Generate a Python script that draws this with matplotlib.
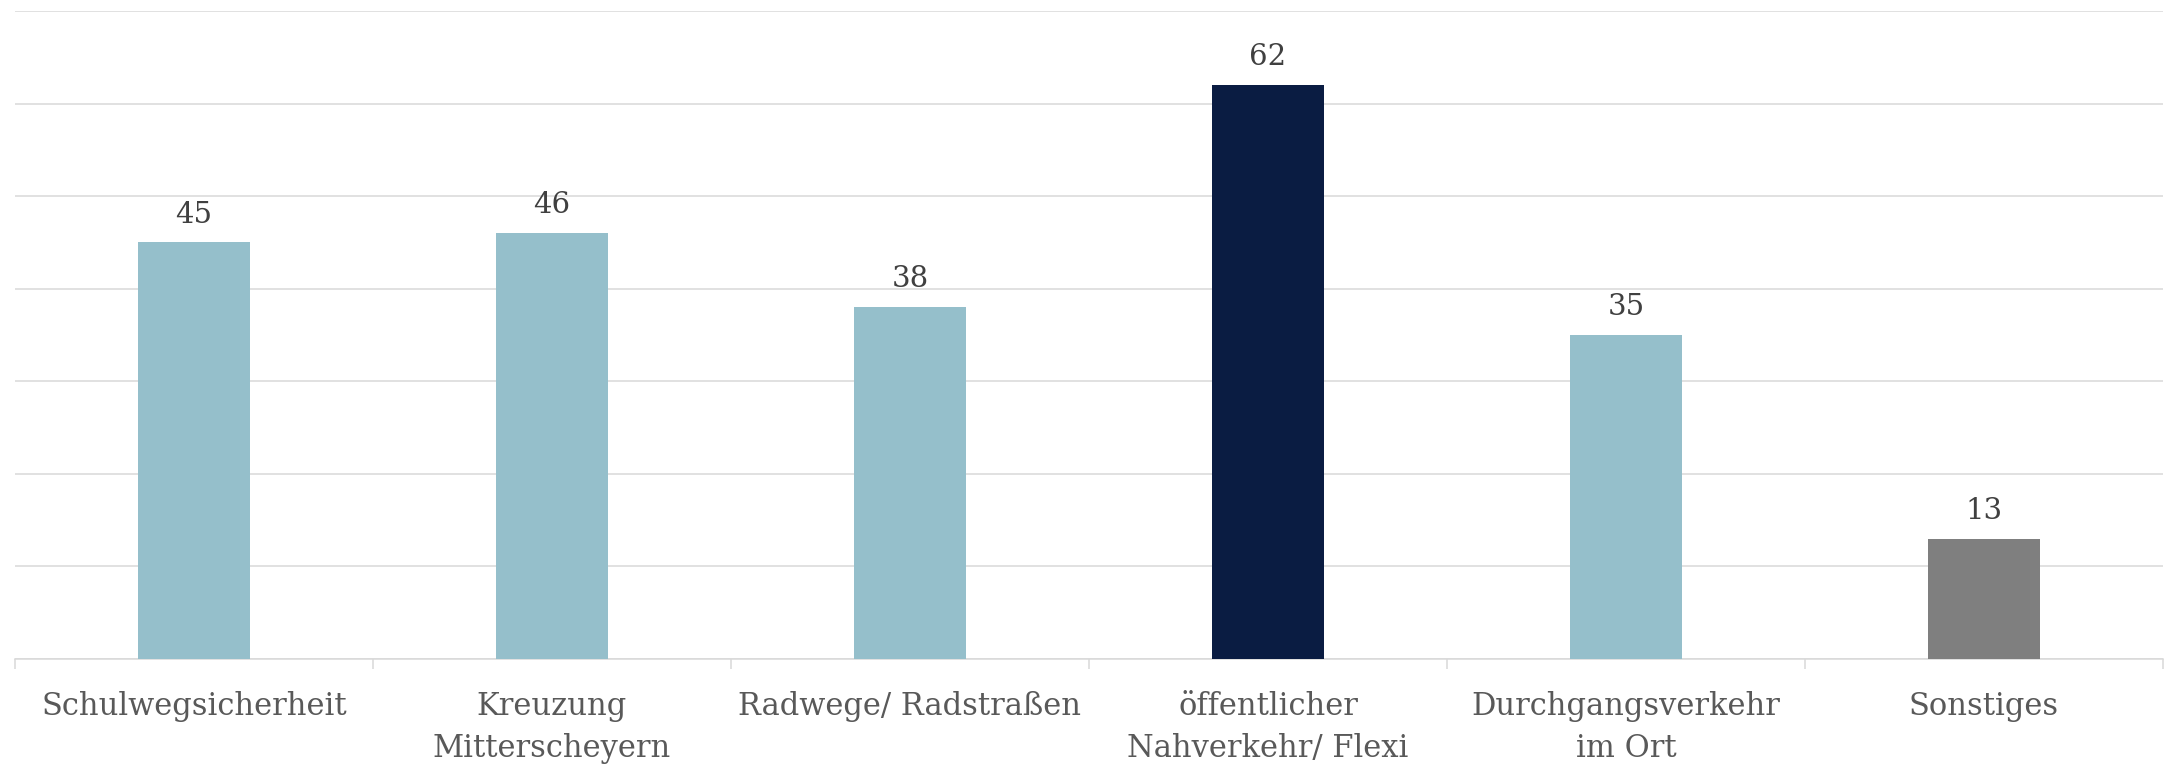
import matplotlib
matplotlib.use('Agg')
import matplotlib.pyplot as plt
import numpy as np

categories = ['Schulwegsicherheit', 'Kreuzung\nMitterscheyern', 'Radwege/ Radstraßen',
              'öffentlicher\nNahverkehr/ Flexi', 'Durchgangsverkehr\nim Ort', 'Sonstiges']
values = [45, 46, 38, 62, 35, 13]
colors = ['#95BFCB', '#95BFCB', '#95BFCB', '#0A1C42', '#95BFCB', '#7F7F7F']

plt.rcParams['font.family'] = ['DejaVu Serif']

fig = plt.figure(figsize=(21.68, 7.67), dpi=100)
ax = fig.add_axes([15 / 2168, 1 - 659 / 767, 2148 / 2168, 648 / 767])

x = np.arange(len(categories))
ax.bar(x, values, width=0.315, color=colors, linewidth=0, zorder=3)
for xi, v in zip(x, values):
    ax.annotate(str(v), (xi, v), xytext=(0, 10), textcoords='offset points',
                ha='center', va='bottom', fontsize=21, color='#404040')

ax.set_xlim(-0.5, len(categories) - 0.5)
ax.set_ylim(0, 70)
ax.set_yticks(np.arange(0, 71, 10))
ax.yaxis.grid(True, color='#D9D9D9', linewidth=1.1, zorder=0)
ax.tick_params(axis='y', left=False, labelleft=False)

ax.set_xticks(x)
ax.set_xticklabels(categories, fontsize=22, color='#595959', linespacing=1.45)
ax.tick_params(axis='x', which='major', length=0, pad=23)
ax.set_xticks(np.arange(-0.5, len(categories)), minor=True)
ax.tick_params(axis='x', which='minor', length=7, color='#D9D9D9', width=1.1)

for s in ['top', 'left', 'right']:
    ax.spines[s].set_visible(False)
ax.spines['bottom'].set_color('#D9D9D9')
ax.spines['bottom'].set_linewidth(1.1)

fig.savefig('out.png', dpi=100)
